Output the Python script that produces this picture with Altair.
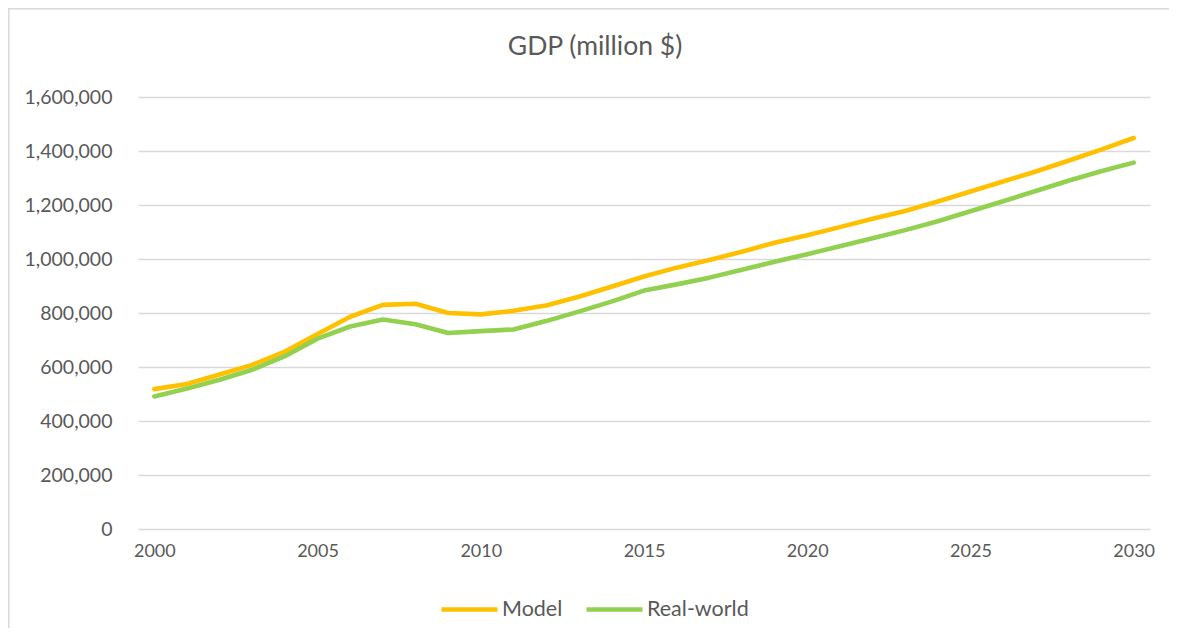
import altair as alt
import pandas as pd

years = list(range(2000, 2031))
model = [518, 537, 572, 608, 657, 722, 786, 830, 834, 800, 795, 808, 828, 860, 897,
         935, 968, 996, 1027, 1060, 1088, 1118, 1149, 1178, 1213, 1250, 1287, 1324,
         1364, 1405, 1448]
real_world = [491, 520, 553, 590, 640, 705, 750, 776, 758, 726, 733, 739, 770, 805, 842,
              883, 906, 931, 960, 990, 1018, 1047, 1077, 1107, 1140, 1177, 1214, 1252,
              1290, 1325, 1357]
series_names = ["Model", "Real-world"]
series_colors = ["#FFC000", "#92D050"]
x_ticks = [2000, 2005, 2010, 2015, 2020, 2025, 2030]
y_ticks = [0, 200000, 400000, 600000, 800000, 1000000, 1200000, 1400000, 1600000]
title_text = "GDP (million $)"

rows = []
for y, m, r in zip(years, model, real_world):
    rows.append({"year": y, "series": "Model", "gdp": m * 1000})
    rows.append({"year": y, "series": "Real-world", "gdp": r * 1000})
df = pd.DataFrame(rows)
one = pd.DataFrame({"t": [title_text]})

FONT = "Lato"
GREY = "#595959"
W, H = 1012, 432
PAD_L, PAD_T, PAD_R, PAD_B = 130, 89, 19, 99

lines = alt.Chart(df).mark_line(strokeWidth=4.6, strokeCap="round", strokeJoin="round").encode(
    x=alt.X("year:Q", scale=alt.Scale(domain=[1999.5, 2030.5], nice=False, zero=False),
            axis=alt.Axis(values=x_ticks, format="d", grid=False, ticks=False, domain=False,
                          labelFont=FONT, labelFontSize=18, labelColor=GREY,
                          labelPadding=13, title=None)),
    y=alt.Y("gdp:Q", scale=alt.Scale(domain=[0, 1600000], nice=False),
            axis=alt.Axis(values=y_ticks, format=",d", grid=True, gridColor="#d9d9d9",
                          gridWidth=1.3, ticks=False, domain=False,
                          labelFont=FONT, labelFontSize=19.5, labelColor=GREY,
                          labelPadding=26, title=None)),
    color=alt.Color("series:N",
                    scale=alt.Scale(domain=series_names, range=series_colors),
                    legend=alt.Legend(title=None, orient="none", direction="horizontal",
                                      legendX=301, legendY=482,
                                      symbolType="stroke", symbolSize=3136,
                                      symbolStrokeWidth=4.6, labelFont=FONT,
                                      labelFontSize=21.5, labelColor=GREY,
                                      labelOffset=2, columnPadding=14)),
    order=alt.Order("year:Q"),
)

title = alt.Chart(one).mark_text(font=FONT, fontSize=26.5, color=GREY, align="center",
                                 baseline="middle").encode(
    text="t:N", x=alt.value(457), y=alt.value(-50)
)

border_left = alt.Chart(one).mark_rule(color="#d9d9d9", strokeWidth=1.5).encode(
    x=alt.value(-PAD_L + 0.8), y=alt.value(-PAD_T), y2=alt.value(H + PAD_B)
)
border_top = alt.Chart(one).mark_rule(color="#d9d9d9", strokeWidth=1.5).encode(
    x=alt.value(-PAD_L), x2=alt.value(W + PAD_R), y=alt.value(-PAD_T + 0.8)
)

chart = alt.layer(lines, title, border_left, border_top).properties(
    width=W, height=H,
    autosize=alt.AutoSizeParams(type="none"),
    padding={"left": PAD_L, "top": PAD_T, "right": PAD_R, "bottom": PAD_B},
).configure(background="white", view=alt.ViewConfig(stroke=None))

chart.save("out.html", embed_options={"renderer": "svg", "actions": False})
